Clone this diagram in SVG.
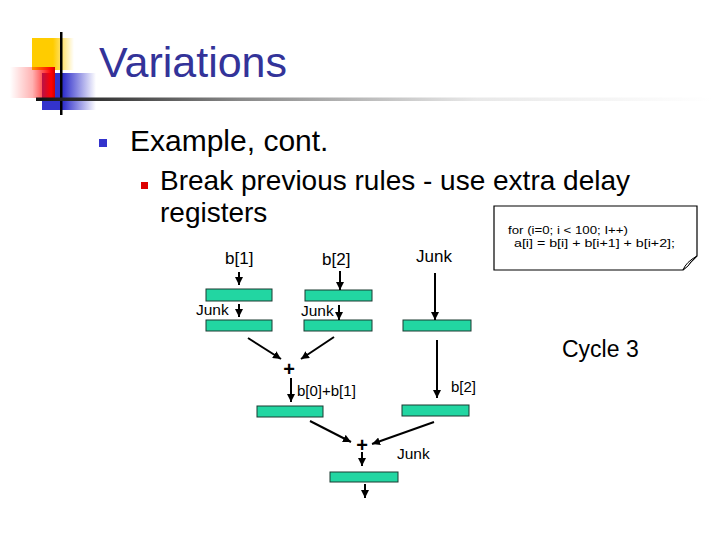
<svg xmlns="http://www.w3.org/2000/svg" width="720" height="540" viewBox="0 0 720 540">
<defs>
<linearGradient id="gy" x1="0" y1="0" x2="1" y2="0"><stop offset="0" stop-color="#FFCC00"/><stop offset="0.5" stop-color="#FFCC00"/><stop offset="1" stop-color="#FFCC00" stop-opacity="0"/></linearGradient>
<linearGradient id="gb" x1="0" y1="0" x2="1" y2="0"><stop offset="0" stop-color="#3333CC"/><stop offset="0.4" stop-color="#3333CC"/><stop offset="1" stop-color="#3333CC" stop-opacity="0"/></linearGradient>
<linearGradient id="gr" x1="0" y1="0" x2="1" y2="0"><stop offset="0" stop-color="#FF0000" stop-opacity="0"/><stop offset="0.5" stop-color="#FF0000" stop-opacity="0.3"/><stop offset="0.92" stop-color="#FF0000"/><stop offset="1" stop-color="#D00000"/></linearGradient>
<linearGradient id="gl" x1="0" y1="0" x2="1" y2="0"><stop offset="0" stop-color="#111"/><stop offset="0.3" stop-color="#888"/><stop offset="0.65" stop-color="#E8E8E8"/><stop offset="1" stop-color="#FFF"/></linearGradient>
<marker id="ah" markerUnits="userSpaceOnUse" markerWidth="8" markerHeight="8" refX="8" refY="4" orient="auto"><path d="M0,0 L8,4 L0,8 z" fill="#000"/></marker>
</defs>
<style>
.t{font-family:"Liberation Sans",Arial,sans-serif;fill:#000}
.reg{fill:#22D6A2;stroke:#1a3a30;stroke-width:1}
.ar{stroke:#000;stroke-width:2;fill:none;marker-end:url(#ah)}
.note{font-family:"Liberation Sans",Arial,sans-serif;font-size:11px;fill:#000}
</style>
<rect width="720" height="540" fill="#fff"/>
<g id="logo">
<rect x="32" y="38" width="42" height="32" fill="url(#gy)"/>
<rect x="42" y="73" width="54" height="37" fill="url(#gb)"/>
<rect x="10" y="67" width="45" height="31" fill="url(#gr)"/>
<rect x="60" y="32" width="2.5" height="83" fill="#000"/>
<rect x="36" y="97.5" width="676" height="3.5" fill="url(#gl)"/>
</g>
<text x="99" y="77" class="t" font-size="43" style="fill:#333399">Variations</text>
<rect x="99" y="139" width="8" height="8" fill="#3333CC"/>
<text x="130" y="151" class="t" font-size="30">Example, cont.</text>
<rect x="141" y="182" width="7" height="7" fill="#DD0000"/>
<text x="160" y="190" class="t" font-size="28">Break previous rules - use extra delay</text>
<text x="160" y="222" class="t" font-size="28">registers</text>
<g id="note">
<path d="M494,206 H697 V256 L683,270 H494 Z" fill="#fff" stroke="#000" stroke-width="1.2"/>
<path d="M683,270 Q686,262 697,256 Q690,262 688,266 Z" fill="#fff" stroke="#000" stroke-width="1"/>
<text x="508" y="234" class="note" textLength="120" lengthAdjust="spacingAndGlyphs">for (i=0; i &lt; 100; I++)</text>
<text x="514" y="247" class="note" textLength="161" lengthAdjust="spacingAndGlyphs">a[i] = b[i] + b[i+1] + b[i+2];</text>
</g>
<text x="562" y="357" class="t" font-size="23">Cycle 3</text>
<g id="labels">
<text x="225" y="264" class="t" font-size="17">b[1]</text>
<text x="322" y="265" class="t" font-size="17">b[2]</text>
<text x="416" y="262" class="t" font-size="17">Junk</text>
<text x="196" y="315" class="t" font-size="15.5">Junk</text>
<text x="301" y="316" class="t" font-size="15.5">Junk</text>
<text x="297" y="396" class="t" font-size="15">b[0]+b[1]</text>
<text x="451" y="392" class="t" font-size="15">b[2]</text>
<text x="397" y="459" class="t" font-size="15.5">Junk</text>
<text x="289" y="376" class="t" font-size="20" font-weight="bold" text-anchor="middle">+</text>
<text x="362" y="452" class="t" font-size="20" font-weight="bold" text-anchor="middle">+</text>
</g>
<g id="r1"><rect x="206" y="289" width="66" height="12" class="reg"/></g>
<g id="r2"><rect x="305" y="290" width="67" height="11" class="reg"/></g>
<g id="r3"><rect x="206" y="320" width="66" height="11" class="reg"/></g>
<g id="r4"><rect x="304" y="320" width="68" height="11" class="reg"/></g>
<g id="r5"><rect x="403" y="320" width="68" height="11" class="reg"/></g>
<g id="r6"><rect x="257" y="406" width="66" height="11" class="reg"/></g>
<g id="r7"><rect x="402" y="405" width="67" height="11" class="reg"/></g>
<g id="r8"><rect x="330" y="472" width="68" height="10" class="reg"/></g>
<g id="connectors">
<line x1="239" y1="272" x2="239" y2="285" class="ar"/>
<line x1="340" y1="271" x2="340" y2="290" class="ar"/>
<line x1="435" y1="273" x2="435" y2="320" class="ar"/>
<line x1="239" y1="304" x2="239" y2="317" class="ar"/>
<line x1="339" y1="305" x2="339" y2="320" class="ar"/>
<line x1="248" y1="338" x2="281" y2="359" class="ar"/>
<line x1="334" y1="337" x2="301" y2="359" class="ar"/>
<line x1="291" y1="378" x2="291" y2="402" class="ar"/>
<line x1="437" y1="340" x2="437" y2="398" class="ar"/>
<line x1="310" y1="421" x2="351" y2="442" class="ar"/>
<line x1="434" y1="422" x2="372" y2="444" class="ar"/>
<line x1="362" y1="452" x2="362" y2="466" class="ar"/>
<line x1="365" y1="484" x2="365" y2="498" class="ar"/>
</g>
</svg>
